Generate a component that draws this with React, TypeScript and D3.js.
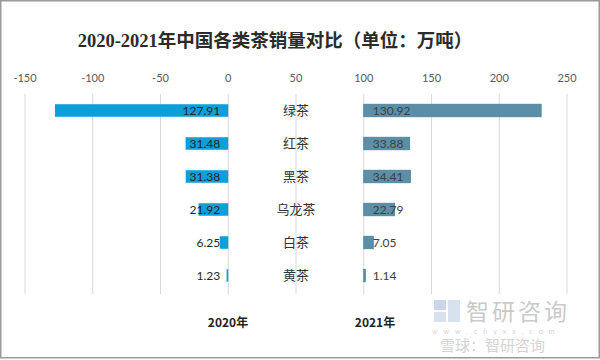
import React from "react";
import * as d3 from "d3";

const categories = ["绿茶", "红茶", "黑茶", "乌龙茶", "白茶", "黄茶"];
const values2020 = [127.91, 31.48, 31.38, 21.92, 6.25, 1.23];
const values2021 = [130.92, 33.88, 34.41, 22.79, 7.05, 1.14];
const tickValues = [-150, -100, -50, 0, 50, 100, 150, 200, 250];
const seriesNames = ["2020年", "2021年"];
const rightOffset = 100;

export default function App() {
  const W = 600, H = 360;
  const x = d3.scaleLinear().domain([-150, 250]).range([25, 567]);
  const y = d3.scaleBand<string>().domain(categories).range([94, 292]).paddingInner(0.62).paddingOuter(0.31);
  const bw = y.bandwidth();
  const dataFont = "Lato, 'Open Sans', sans-serif";
  const cjk = "'Noto Sans CJK SC', sans-serif";
  return (
    <svg width={W} height={H} style={{ position: "absolute", left: 0, top: 0, background: "#fff" }}>
      <rect x={0.75} y={0.75} width={W - 1.5} height={H - 3} fill="#fff" stroke="#9a9a9a" strokeWidth={1.5} />
      <text x={275} y={47} textAnchor="middle" fontFamily="'Liberation Serif', 'Noto Sans CJK SC', serif" fontWeight="bold" fontSize={18.5} fill="#2b2b2b">
        2020-2021年中国各类茶销量对比（单位：万吨）
      </text>
      {tickValues.map((t) => (
        <g key={t}>
          <line x1={x(t)} x2={x(t)} y1={94} y2={294} stroke="#d9d9d9" strokeWidth={1} />
          <text x={x(t)} y={82} textAnchor="middle" fontFamily={dataFont} fontSize={11} fill="#595959">{t}</text>
        </g>
      ))}
      {categories.map((c, i) => {
        const yc = (y(c) as number) + bw / 2;
        const v0 = values2020[i];
        const v1 = values2021[i];
        return (
          <g key={c}>
            <rect x={x(-v0)} y={y(c)} width={x(0) - x(-v0)} height={bw} fill="#0e9ed9" />
            <rect x={x(rightOffset)} y={y(c)} width={x(rightOffset + v1) - x(rightOffset)} height={bw} fill="#5b8fa8" stroke="#4d7f97" strokeWidth={0.8} />
            <text x={x(0) - 8} y={yc} dy="0.36em" textAnchor="end" fontFamily={dataFont} fontSize={12} fill="#262626">{v0.toFixed(2)}</text>
            <text x={x(rightOffset) + 9} y={yc} dy="0.36em" textAnchor="start" fontFamily={dataFont} fontSize={12} fill="#404040">{v1.toFixed(2)}</text>
            <text x={(x(0) + x(rightOffset)) / 2} y={yc} dy="0.36em" textAnchor="middle" fontFamily={cjk} fontSize={13} fill="#333">{c}</text>
          </g>
        );
      })}
      <text x={228} y={327} textAnchor="middle" fontFamily={cjk} fontWeight="bold" fontSize={12} fill="#222">{seriesNames[0]}</text>
      <text x={375} y={327} textAnchor="middle" fontFamily={cjk} fontWeight="bold" fontSize={12} fill="#222">{seriesNames[1]}</text>
      <g opacity={0.55}>
        <rect x={434} y={300} width={12} height={10} fill="#9fb8d8" />
        <rect x={448} y={300} width={12} height={22} fill="#b9cbe3" />
        <rect x={434} y={312} width={12} height={10} fill="#b9cbe3" />
        <text x={466} y={320} fontFamily={cjk} fontSize={23} fill="#a0a0a0" letterSpacing={3}>智研咨询</text>
        <text x={432} y={334} fontFamily={dataFont} fontSize={7} fill="#b0b0b0" letterSpacing={6}>www.chyxx.com</text>
        <text x={440} y={351} fontFamily={cjk} fontSize={15} fill="#b0b0b0">雪球：智研咨询</text>
      </g>
    </svg>
  );
}
